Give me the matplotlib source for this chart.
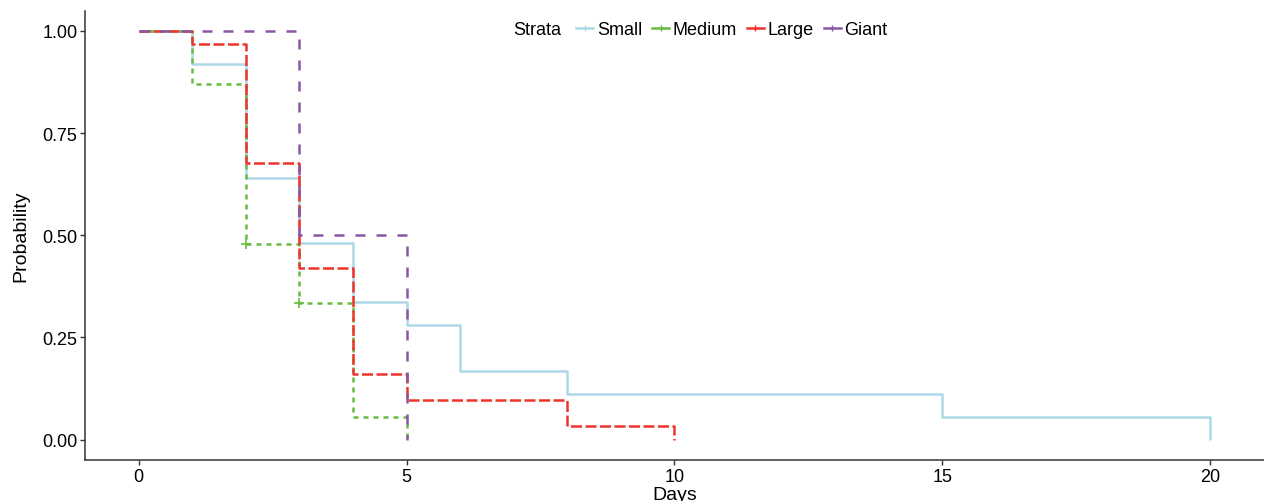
import matplotlib
matplotlib.use('Agg')
import matplotlib.pyplot as plt
from matplotlib.lines import Line2D

""" --- data --- """
strata = ['Small', 'Medium', 'Large', 'Giant']

small_t = [0, 1, 2, 3, 4, 5, 6, 8, 15, 20]
small_s = [1.0, 0.92, 0.64, 0.48, 0.336, 0.28, 0.168, 0.112, 0.056, 0.0]

medium_t = [0, 1, 2, 3, 4, 5]
medium_s = [1.0, 0.87, 0.478, 0.333, 0.056, 0.0]
medium_cens_t = [2, 3]
medium_cens_s = [0.478, 0.333]

large_t = [0, 1, 2, 3, 4, 5, 8, 10]
large_s = [1.0, 0.968, 0.677, 0.419, 0.161, 0.097, 0.032, 0.0]

giant_t = [0, 3, 5]
giant_s = [1.0, 0.5, 0.0]

x_ticks = [0, 5, 10, 15, 20]
y_ticks = [0.0, 0.25, 0.5, 0.75, 1.0]

""" --- settings --- """
COLORS = {'Small': '#ADD8E6', 'Medium': '#66BC40', 'Large': '#F0332A', 'Giant': '#8A56A8'}
DASHES = {'Small': None, 'Medium': (2, 2), 'Large': (4.4, 1.4), 'Giant': (4, 4.4)}
LW = 1.8

plt.rcParams['font.family'] = ['Liberation Sans', 'DejaVu Sans']


def step_line(ax, t, s, name):
    # the curve keeps its last value until the next time, then drops straight down
    kw = dict(where='post', color=COLORS[name], lw=LW, solid_capstyle='butt')
    line, = ax.step(t, s, **kw)
    if DASHES[name] is not None:
        line.set_dashes(DASHES[name])
    return line


def main_plot():
    fig = plt.figure(figsize=(12.64, 5.02), dpi=100)
    ax = fig.add_axes([0.0672, 0.0817, 0.9328, 0.8953])

    step_line(ax, small_t, small_s, 'Small')
    step_line(ax, medium_t, medium_s, 'Medium')
    ax.plot(medium_cens_t, medium_cens_s, ls='none', marker='+', ms=7, mew=1.2,
            color=COLORS['Medium'])
    step_line(ax, large_t, large_s, 'Large')
    step_line(ax, giant_t, giant_s, 'Giant')

    ax.set_xlim(-1, 21)
    ax.set_ylim(-0.05, 1.05)
    ax.set_xticks(x_ticks)
    ax.set_xticklabels([str(x) for x in x_ticks])
    ax.set_yticks(y_ticks)
    ax.set_yticklabels(['{0:.2f}'.format(y) for y in y_ticks])
    ax.tick_params(labelsize=13, length=3.5, width=1, color='#333333',
                   labelcolor='black', pad=2)
    for side in ['top', 'right']:
        ax.spines[side].set_visible(False)
    for side in ['left', 'bottom']:
        ax.spines[side].set_color('#333333')
        ax.spines[side].set_linewidth(1.1)

    ax.set_xlabel('Days', fontsize=14, labelpad=1)
    ax.set_ylabel('Probability', fontsize=14, labelpad=9)

    handles = [Line2D([], [], color=COLORS[n], lw=LW, marker='+', ms=5, mew=1.0)
               for n in strata]
    fig.legend(handles, strata, loc='center left', bbox_to_anchor=(576 / 1264, 1 - 31 / 502),
               ncol=4, frameon=False, fontsize=13, handlelength=0.95,
               handletextpad=0.2, columnspacing=0.55, borderpad=0, borderaxespad=0)
    fig.text(537 / 1264, 1 - 31 / 502, 'Strata', fontsize=13, ha='center', va='center')

    fig.savefig('out.png', dpi=100)


if __name__ == '__main__':
    main_plot()
